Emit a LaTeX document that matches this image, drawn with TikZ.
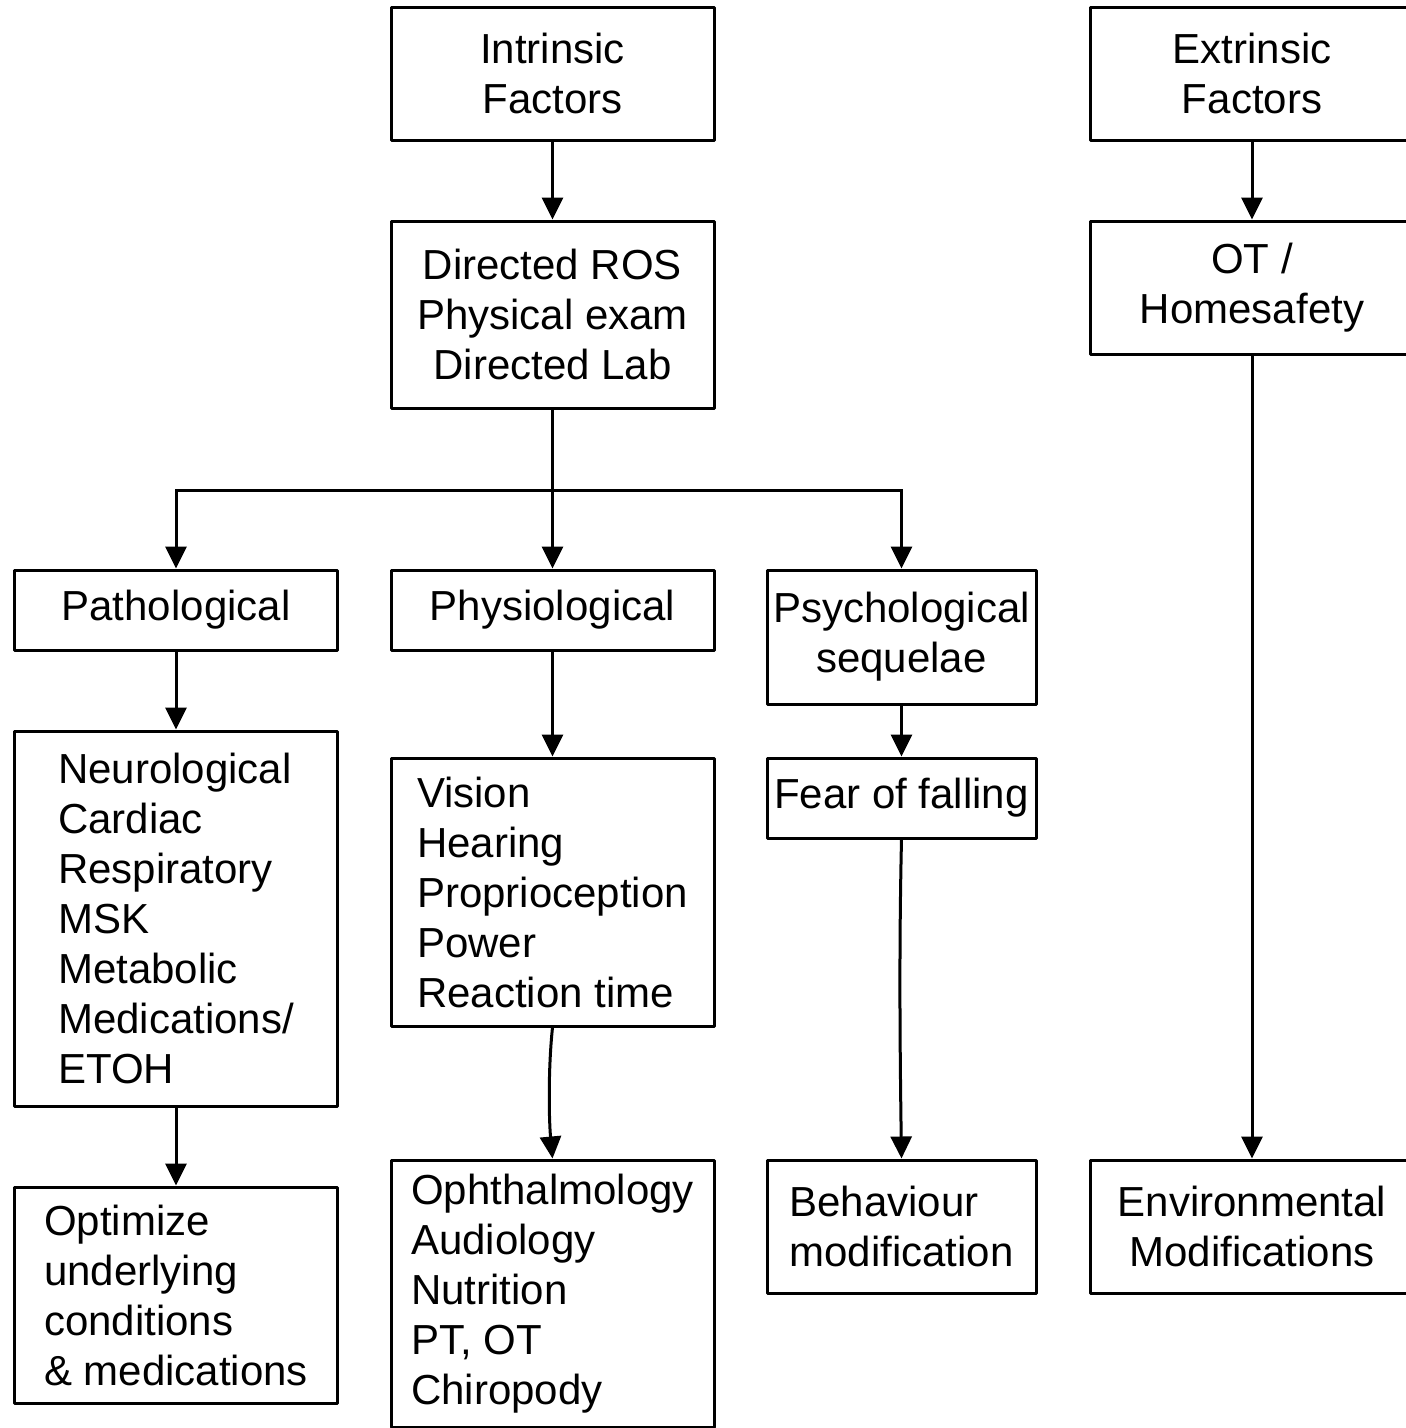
\documentclass[tikz,border=0pt]{standalone}
\usepackage{fontspec}
\setmainfont{Liberation Sans}
\usetikzlibrary{arrows.meta}
\begin{document}
\begin{tikzpicture}[x=1pt,y=-1pt,
  box/.style={draw,line width=3pt,line join=round,minimum width=323pt,inner sep=0pt,
    font=\fontsize{42}{50}\selectfont,align=center},
  lbox/.style={box,align=left},
  arr/.style={line width=3pt,-{Triangle[length=22pt,width=21pt]}},
  ln/.style={line width=3pt}]
\useasboundingbox (0,0) rectangle (1406,1428);
% row 1
\node[box,minimum height=133pt] (intr) at (552.5,73.5) {Intrinsic\\Factors};
\node[box,minimum height=133pt] (extr) at (1252,73.5) {Extrinsic\\Factors};
% row 2
\node[box,minimum height=187pt] (ros) at (552.5,314.5) {Directed ROS\\Physical exam\\Directed Lab};
\node[box,minimum height=133pt] (ot) at (1252,287.5) {OT /\\Homesafety};
% row 3
\node[box,minimum height=80pt] (path) at (176,610) {Pathological};
\node[box,minimum height=80pt] (phys) at (552.5,610) {Physiological};
\node[box,minimum width=269pt,minimum height=134pt] (psych) at (901.5,637) {Psychological\\sequelae};
% row 4
\node[lbox,minimum height=375pt] (neuro) at (176,918.5) {Neurological\\Cardiac\\Respiratory\\MSK\\Metabolic\\Medications/\\ETOH};
\node[lbox,minimum height=268pt] (vis) at (552.5,892) {Vision\\Hearing\\Proprioception\\Power\\Reaction time};
\node[box,minimum width=269pt,minimum height=80pt] (fear) at (901.5,798) {Fear of falling};
% row 5
\node[lbox,minimum height=216pt] (opt) at (176,1295) {Optimize\\underlying\\conditions\\\& medications};
\node[lbox,minimum height=267pt] (oph) at (552.5,1293.5) {Ophthalmology\\Audiology\\Nutrition\\PT, OT\\Chiropody};
\node[lbox,minimum width=269pt,minimum height=133pt] (beh) at (901.5,1226.5) {Behaviour\\modification};
\node[box,minimum height=133pt] (env) at (1252,1226.5) {Environmental\\Modifications};
% connectors
\draw[arr] (intr.south) -- (ros.north);
\draw[arr] (extr.south) -- (ot.north);
\draw[arr] (ros.south) -- (phys.north);
\coordinate (bus) at (552.5,490);
\draw[arr] (bus) -| (path.north);
\draw[arr] (bus) -| (psych.north);
\draw[arr] (path.south) -- (neuro.north);
\draw[arr] (phys.south) -- (vis.north);
\draw[arr] (psych.south) -- (fear.north);
\draw[arr] (neuro.south) -- (opt.north);
\draw[arr] (vis.south) .. controls (548,1070) and (549,1120) .. (oph.north);
\draw[arr] (fear.south) .. controls (899,950) and (900,1050) .. (beh.north);
\draw[arr] (ot.south) -- (env.north);
\end{tikzpicture}
\end{document}
